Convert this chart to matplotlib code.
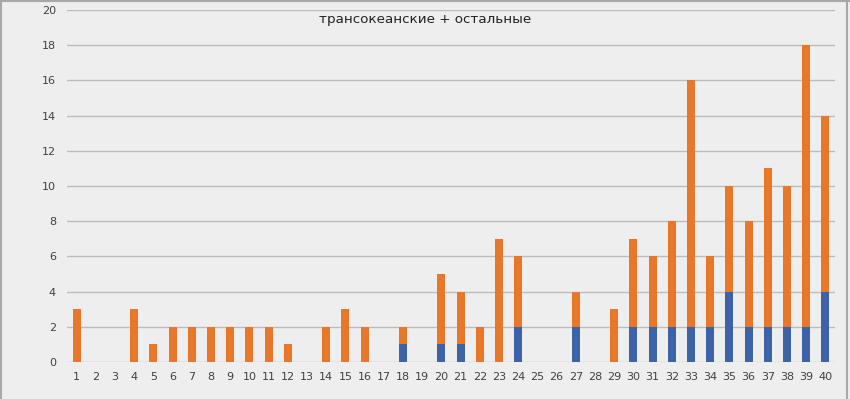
import numpy as np
import matplotlib.pyplot as plt
from matplotlib.lines import Line2D

categories = [str(i) for i in range(1, 41)]
# blue part (трансокеанские)
transoceanic = [0, 0, 0, 0, 0, 0, 0, 0, 0, 0,
                0, 0, 0, 0, 0, 0, 0, 1, 0, 1,
                1, 0, 0, 2, 0, 0, 2, 0, 0, 2,
                2, 2, 2, 2, 4, 2, 2, 2, 2, 4]
# orange part (остальные)
others = [3, 0, 0, 3, 1, 2, 2, 2, 2, 2,
          2, 1, 0, 2, 3, 2, 0, 1, 0, 4,
          3, 2, 7, 4, 0, 0, 2, 0, 3, 5,
          4, 6, 14, 4, 6, 6, 9, 8, 16, 10]
yticks = list(range(0, 21, 2))
title = "трансокеанские + остальные"

bg = '#eeeeee'
fig = plt.figure(figsize=(8.5, 3.99), dpi=100, facecolor=bg)
ax = fig.add_axes([67/850, 1 - 362/399, 768/850, 352/399], facecolor=bg)

x = np.arange(1, len(categories) + 1)
ax.bar(x, transoceanic, width=0.42, color='#3b63a6', zorder=3)
ax.bar(x, others, width=0.42, bottom=transoceanic, color='#e8772a', zorder=3)

ax.set_xlim(0.5, 40.5)
ax.set_ylim(0, 20)
ax.set_yticks(yticks)
ax.set_xticks(x)
ax.set_xticklabels(categories)
ax.grid(axis='y', color='#bcbcbc', linewidth=1, zorder=0)
for s in ax.spines.values():
    s.set_visible(False)
ax.tick_params(length=0, labelsize=8, colors='#404040')
ax.tick_params(axis='y', pad=8)
ax.tick_params(axis='x', pad=7)

fig.text(425/850, 1 - 20/399, title, ha='center', va='center', fontsize=9.7, color='#222222')

# frame on left, top and right (as in the screenshot)
for xs, ys in [([0.001, 0.001], [0, 0.998]), ([0, 1], [0.998, 0.998]), ([0.996, 0.996], [0, 0.998])]:
    fig.lines.append(Line2D(xs, ys, transform=fig.transFigure, color='#a8a8a8', linewidth=1.5))

fig.savefig('out.png', dpi=100, facecolor=bg)
